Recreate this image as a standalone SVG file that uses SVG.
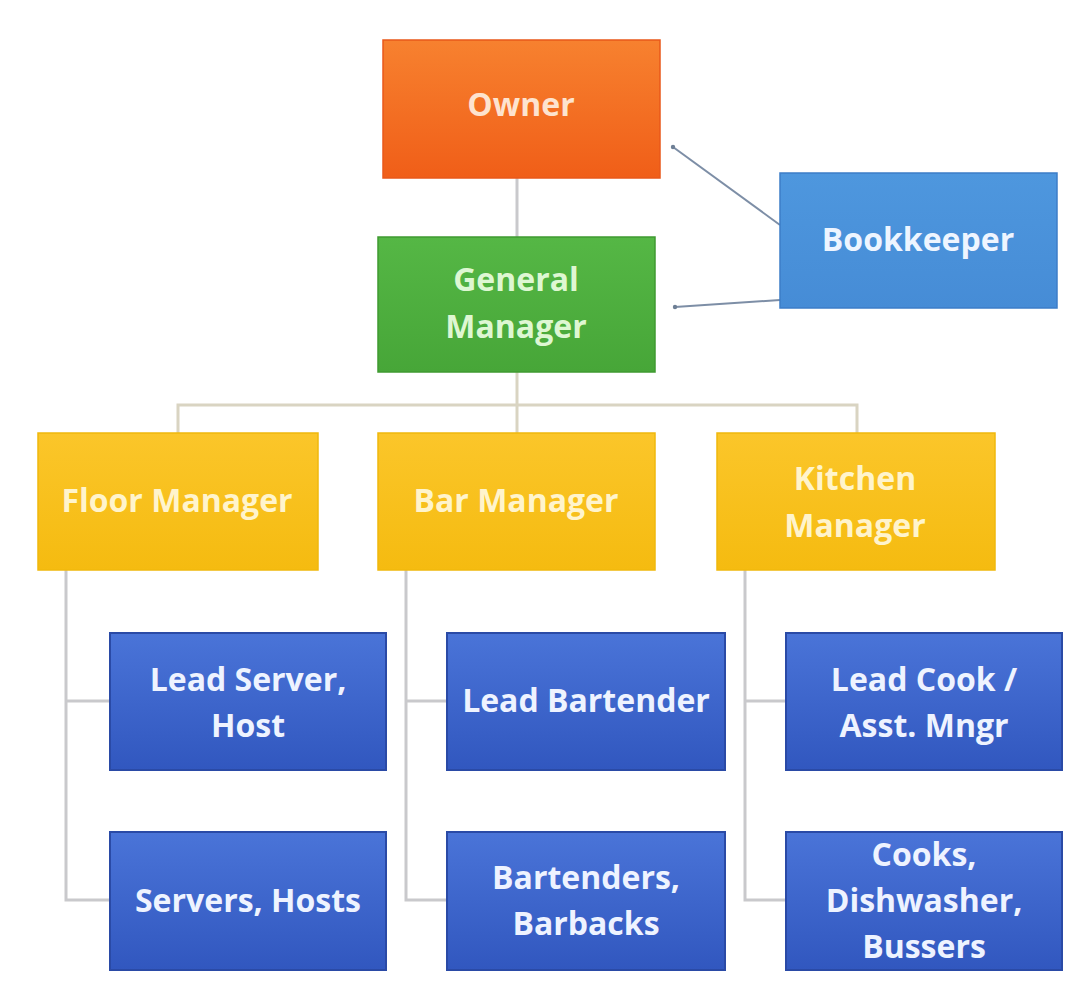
<svg xmlns="http://www.w3.org/2000/svg" width="1087" height="998" viewBox="0 0 1087 998">
  <defs>
    <linearGradient id="gOrange" x1="0" y1="0" x2="0" y2="1">
      <stop offset="0" stop-color="#f7812f"/>
      <stop offset="1" stop-color="#f05e18"/>
    </linearGradient>
    <linearGradient id="gGreen" x1="0" y1="0" x2="0" y2="1">
      <stop offset="0" stop-color="#55b745"/>
      <stop offset="1" stop-color="#47a638"/>
    </linearGradient>
    <linearGradient id="gSky" x1="0" y1="0" x2="0" y2="1">
      <stop offset="0" stop-color="#4e97de"/>
      <stop offset="1" stop-color="#468cd6"/>
    </linearGradient>
    <linearGradient id="gGold" x1="0" y1="0" x2="0" y2="1">
      <stop offset="0" stop-color="#fbc62a"/>
      <stop offset="1" stop-color="#f5bb10"/>
    </linearGradient>
    <linearGradient id="gBlue" x1="0" y1="0" x2="0" y2="1">
      <stop offset="0" stop-color="#4a74d8"/>
      <stop offset="1" stop-color="#3157bf"/>
    </linearGradient>
    <marker id="dot" viewBox="0 0 6 6" refX="3" refY="3" markerWidth="6" markerHeight="6" markerUnits="userSpaceOnUse">
      <circle cx="3" cy="3" r="2.2" fill="#6e7f95"/>
    </marker>
  </defs>
  <style>
    .lbl { font-family: "Open Sans", "Liberation Sans", sans-serif; font-size: 32px; font-weight: 700; text-anchor: middle; }
    .wline { fill: none; stroke: #d9d4c2; stroke-width: 3; }
    .gline { fill: none; stroke: #c9c9cc; stroke-width: 3; }
    .bline { fill: none; stroke: #7d8ea6; stroke-width: 2; }
    .blue { fill: url(#gBlue); stroke: #2a4aa6; stroke-width: 2; }
    .gold { fill: url(#gGold); stroke: #f0b80c; stroke-width: 1.5; }
  </style>
  <rect width="1087" height="998" fill="#ffffff"/>

  <!-- connectors -->
  <g id="connectors">
    <line class="gline" x1="517" y1="178" x2="517" y2="237"/>
    <line class="wline" x1="517" y1="372" x2="517" y2="405"/>
    <polyline class="wline" points="178,433 178,405 857,405 857,433"/>
    <line class="wline" x1="517" y1="405" x2="517" y2="433"/>
    <polyline class="gline" points="66,570 66,900 110,900"/>
    <line class="gline" x1="66" y1="701" x2="110" y2="701"/>
    <polyline class="gline" points="406,570 406,900 447,900"/>
    <line class="gline" x1="406" y1="701" x2="447" y2="701"/>
    <polyline class="gline" points="745,570 745,900 786,900"/>
    <line class="gline" x1="745" y1="701" x2="786" y2="701"/>
    <line class="bline" x1="780" y1="225" x2="673" y2="147" marker-end="url(#dot)"/>
    <line class="bline" x1="780" y1="300" x2="675" y2="307" marker-end="url(#dot)"/>
  </g>

  <g id="owner">
    <rect x="383" y="40" width="277" height="138" fill="url(#gOrange)" stroke="#e9581a" stroke-width="1.5"/>
    <text class="lbl" x="521" y="116" fill="#fde3cf">Owner</text>
  </g>

  <g id="bookkeeper">
    <rect x="780" y="173" width="277" height="135" fill="url(#gSky)" stroke="#3d7dc8" stroke-width="1.5"/>
    <text class="lbl" x="918" y="251" fill="#eef5ff">Bookkeeper</text>
  </g>

  <g id="general-manager">
    <rect x="378" y="237" width="277" height="135" fill="url(#gGreen)" stroke="#3f9a31" stroke-width="1.5"/>
    <text class="lbl" x="516" y="291" fill="#def7d2">General</text>
    <text class="lbl" x="516" y="338" fill="#def7d2">Manager</text>
  </g>

  <g id="floor-manager">
    <rect class="gold" x="38" y="433" width="280" height="137"/>
    <text class="lbl" x="177" y="512" fill="#fff4cc">Floor Manager</text>
  </g>

  <g id="bar-manager">
    <rect class="gold" x="378" y="433" width="277" height="137"/>
    <text class="lbl" x="516" y="512" fill="#fff4cc">Bar Manager</text>
  </g>

  <g id="kitchen-manager">
    <rect class="gold" x="717" y="433" width="278" height="137"/>
    <text class="lbl" x="855" y="490" fill="#fff4cc">Kitchen</text>
    <text class="lbl" x="855" y="537" fill="#fff4cc">Manager</text>
  </g>

  <g id="lead-server">
    <rect class="blue" x="110" y="633" width="276" height="137"/>
    <text class="lbl" x="248" y="691" fill="#eef3ff">Lead Server,</text>
    <text class="lbl" x="248" y="737" fill="#eef3ff">Host</text>
  </g>

  <g id="servers-hosts">
    <rect class="blue" x="110" y="832" width="276" height="138"/>
    <text class="lbl" x="248" y="912" fill="#eef3ff">Servers,  Hosts</text>
  </g>

  <g id="lead-bartender">
    <rect class="blue" x="447" y="633" width="278" height="137"/>
    <text class="lbl" x="586" y="712" fill="#eef3ff">Lead Bartender</text>
  </g>

  <g id="bartenders">
    <rect class="blue" x="447" y="832" width="278" height="138"/>
    <text class="lbl" x="586" y="889" fill="#eef3ff">Bartenders,</text>
    <text class="lbl" x="586" y="935" fill="#eef3ff">Barbacks</text>
  </g>

  <g id="lead-cook">
    <rect class="blue" x="786" y="633" width="276" height="137"/>
    <text class="lbl" x="924" y="691" fill="#eef3ff">Lead Cook /</text>
    <text class="lbl" x="924" y="737" fill="#eef3ff">Asst. Mngr</text>
  </g>

  <g id="cooks">
    <rect class="blue" x="786" y="832" width="276" height="138"/>
    <text class="lbl" x="924" y="866" fill="#eef3ff">Cooks,</text>
    <text class="lbl" x="924" y="912" fill="#eef3ff">Dishwasher,</text>
    <text class="lbl" x="924" y="958" fill="#eef3ff">Bussers</text>
  </g>
</svg>
